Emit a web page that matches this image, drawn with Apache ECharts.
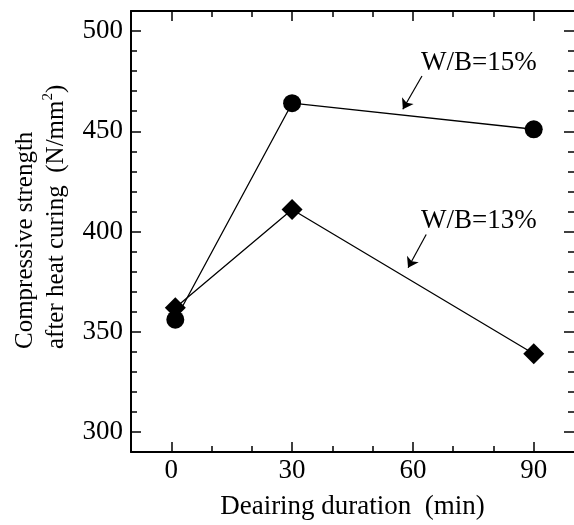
<!DOCTYPE html>
<html>
<head>
<meta charset="utf-8">
<script src="https://cdn.jsdelivr.net/npm/echarts@6/dist/echarts.min.js"></script>
<style>html,body{margin:0;padding:0;background:#fff}#c{width:574px;height:525px}</style>
</head>
<body>
<div id="c"></div>
<script>
// ---- data ----
const durations = [1, 30, 90];
const wb15 = [356, 464, 451];
const wb13 = [362, 411, 339];
const xTickLabels = [0, 30, 60, 90];
const xMinorTicks = [10, 20, 40, 50, 70, 80];
const yTickLabels = [300, 350, 400, 450, 500];
const yMinorTicks = [290, 310, 320, 330, 340, 360, 370, 380, 390, 410, 420, 430, 440, 460, 470, 480, 490, 510];
const annoTexts = ['W/B=15%', 'W/B=13%'];
const annoTextAt = [[62, 484.1], [62, 405.1]];
const annoArrowFrom = [[62.25, 477.6], [63.3, 398.5]];
const annoArrowTo = [[57.5, 461.0], [58.8, 381.9]];

const FONT = 'Liberation Serif';
const chart = echarts.init(document.getElementById('c'), null, {renderer: 'canvas'});

function xAxisDef(pos, showLabels, ticks, len, showLine) {
  return {
    type: 'value', position: pos, min: -10, max: 100, interval: 10,
    axisLine: {show: showLine, onZero: false, lineStyle: {color: '#000', width: 2}},
    axisTick: {show: true, inside: true, length: len, customValues: ticks, lineStyle: {color: '#000', width: 1.5}},
    axisLabel: {show: showLabels, customValues: xTickLabels, margin: 5, color: '#000', fontFamily: FONT, fontSize: 27},
    splitLine: {show: false}
  };
}
function yAxisDef(pos, showLabels, ticks, len, showLine) {
  return {
    type: 'value', position: pos, min: 290, max: 510, interval: 10,
    axisLine: {show: showLine, onZero: false, lineStyle: {color: '#000', width: 2}},
    axisTick: {show: true, inside: true, length: len, customValues: ticks, lineStyle: {color: '#000', width: 1.5}},
    axisLabel: {show: showLabels, customValues: yTickLabels, margin: 8, color: '#000', fontFamily: FONT, fontSize: 27},
    splitLine: {show: false}
  };
}

const xBottom = xAxisDef('bottom', true, xTickLabels, 10, true);
xBottom.name = 'Deairing duration  (min)';
xBottom.nameLocation = 'middle';
xBottom.nameGap = 41;
xBottom.nameTextStyle = {color: '#000', fontFamily: FONT, fontSize: 27};

const arrowLines = annoArrowFrom.map((f, i) => [{coord: f}, {coord: annoArrowTo[i]}]);

const option = {
  animation: false,
  backgroundColor: '#fff',
  grid: {left: 131, top: 11, width: 445, height: 442, containLabel: false},
  xAxis: [
    xBottom,
    xAxisDef('bottom', false, xMinorTicks, 6, false),
    xAxisDef('top', false, xTickLabels, 10, true),
    xAxisDef('top', false, xMinorTicks, 6, false)
  ],
  yAxis: [
    yAxisDef('left', true, yTickLabels, 10, true),
    yAxisDef('left', false, yMinorTicks, 6, false),
    yAxisDef('right', false, yTickLabels, 10, false),
    yAxisDef('right', false, yMinorTicks, 6, false)
  ],
  series: [
    {
      name: 'W/B=13%', type: 'line', xAxisIndex: 0, yAxisIndex: 0,
      data: durations.map((d, i) => [d, wb13[i]]),
      symbol: 'diamond', symbolSize: 21,
      lineStyle: {color: '#000', width: 1.3},
      itemStyle: {color: '#000'},
      z: 3,
      markLine: {
        silent: true, symbol: ['none', 'arrow'], symbolSize: 10,
        lineStyle: {color: '#000', width: 1.2, type: 'solid'},
        label: {show: false},
        data: arrowLines
      }
    },
    {
      name: 'W/B=15%', type: 'line', xAxisIndex: 0, yAxisIndex: 0,
      data: durations.map((d, i) => [d, wb15[i]]),
      symbol: 'circle', symbolSize: 18,
      lineStyle: {color: '#000', width: 1.3},
      itemStyle: {color: '#000'},
      z: 4
    }
  ],
  graphic: [
    {
      type: 'text', x: 41, y: 349, rotation: Math.PI / 2,
      style: {
        text: 'Compressive strength\nafter heat curing  (N/mm{sup|2})',
        fontFamily: FONT, fontSize: 25, fill: '#000',
        align: 'left', verticalAlign: 'middle',
        textAlign: 'left', textVerticalAlign: 'middle',
        lineHeight: 31,
        rich: {sup: {fontFamily: FONT, fontSize: 15, verticalAlign: 'top', lineHeight: 31}}
      }
    }
  ]
};
chart.setOption(option);

const annoGraphics = annoTexts.map((t, i) => {
  const p = chart.convertToPixel({gridIndex: 0}, annoTextAt[i]);
  return {
    type: 'text', x: p[0], y: p[1],
    style: {text: t, fontFamily: FONT, fontSize: 27, fill: '#000',
            align: 'left', verticalAlign: 'middle', textAlign: 'left', textVerticalAlign: 'middle'}
  };
});
chart.setOption({graphic: option.graphic.concat(annoGraphics)});
</script>
</body>
</html>
